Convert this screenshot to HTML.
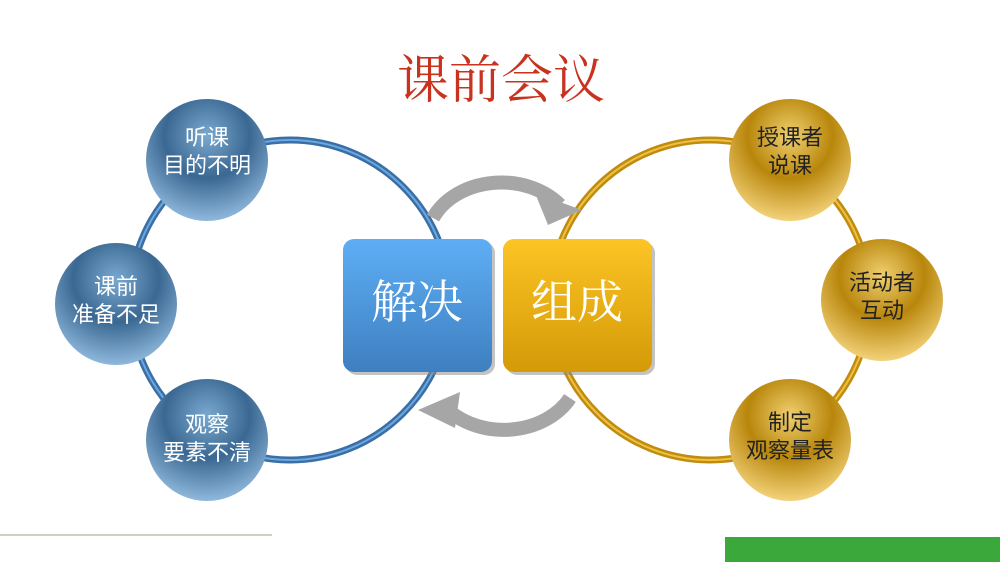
<!DOCTYPE html>
<html><head><meta charset="utf-8"><style>
body{margin:0;background:#fff;}
svg{display:block;font-family:"Liberation Sans","Noto Sans CJK SC",sans-serif;}
</style></head><body>
<svg width="1000" height="562" viewBox="0 0 1000 562">
<defs>
<radialGradient id="bb" cx="50%" cy="30%" r="70%">
<stop offset="0" stop-color="#7aa9d0"/><stop offset="0.5" stop-color="#3a6892"/><stop offset="1" stop-color="#8fb8dc"/>
</radialGradient>
<radialGradient id="gb" cx="50%" cy="30%" r="70%">
<stop offset="0" stop-color="#f0d070"/><stop offset="0.5" stop-color="#b8860b"/><stop offset="1" stop-color="#f3d27a"/>
</radialGradient>
<linearGradient id="bs" x1="0" y1="0" x2="0" y2="1">
<stop offset="0" stop-color="#5eaef5"/><stop offset="1" stop-color="#3e7fc0"/>
</linearGradient>
<linearGradient id="os" x1="0" y1="0" x2="0" y2="1">
<stop offset="0" stop-color="#fcc424"/><stop offset="1" stop-color="#d49a08"/>
</linearGradient>
</defs>
<text x="501" y="98" text-anchor="middle" font-size="52" fill="#c8321e" font-family="'Liberation Serif','Noto Serif CJK SC',serif">课前会议</text>
<circle cx="290" cy="300" r="160" fill="none" stroke="#3a6ea5" stroke-width="7"/>
<circle cx="290" cy="300" r="160" fill="none" stroke="#6aa8e0" stroke-width="2"/>
<circle cx="710" cy="300" r="160" fill="none" stroke="#c08c10" stroke-width="7"/>
<circle cx="710" cy="300" r="160" fill="none" stroke="#f0c040" stroke-width="2"/>
<path d="M433 218 A75 60 0 0 1 560 205" fill="none" stroke="#a6a6a6" stroke-width="14"/>
<polygon points="535,193 582,210 548,225" fill="#a6a6a6"/>
<path d="M570 398 A75 60 0 0 1 443 405" fill="none" stroke="#a6a6a6" stroke-width="14"/>
<polygon points="418,410 460,392 455,428" fill="#a6a6a6"/>
<rect x="346" y="242" width="149" height="133" rx="11" fill="#888" opacity="0.5"/>
<rect x="343" y="239" width="149" height="133" rx="11" fill="url(#bs)"/>
<rect x="506" y="242" width="149" height="133" rx="11" fill="#888" opacity="0.5"/>
<rect x="503" y="239" width="149" height="133" rx="11" fill="url(#os)"/>
<g font-family="'Liberation Serif','Noto Serif CJK SC',serif" font-size="46" fill="#fff" text-anchor="middle">
<text x="417" y="318">解决</text>
<text x="577" y="318">组成</text>
</g>
<g font-size="22" fill="#fff" text-anchor="middle">
<circle cx="207" cy="160" r="61" fill="url(#bb)"/>
<text x="207" y="145">听课</text><text x="207" y="173">目的不明</text>
<circle cx="116" cy="304" r="61" fill="url(#bb)"/>
<text x="116" y="294">课前</text><text x="116" y="322">准备不足</text>
<circle cx="207" cy="440" r="61" fill="url(#bb)"/>
<text x="207" y="432">观察</text><text x="207" y="460">要素不清</text>
</g>
<g font-size="22" fill="#222" text-anchor="middle">
<circle cx="790" cy="160" r="61" fill="url(#gb)"/>
<text x="790" y="145">授课者</text><text x="790" y="173">说课</text>
<circle cx="882" cy="300" r="61" fill="url(#gb)"/>
<text x="882" y="290">活动者</text><text x="882" y="318">互动</text>
<circle cx="790" cy="440" r="61" fill="url(#gb)"/>
<text x="790" y="430">制定</text><text x="790" y="458">观察量表</text>
</g>
<line x1="0" y1="535" x2="272" y2="535" stroke="#9aaa80" stroke-width="1"/>
<rect x="725" y="537" width="275" height="25" fill="#3aa83a"/>
</svg>
</body></html>
